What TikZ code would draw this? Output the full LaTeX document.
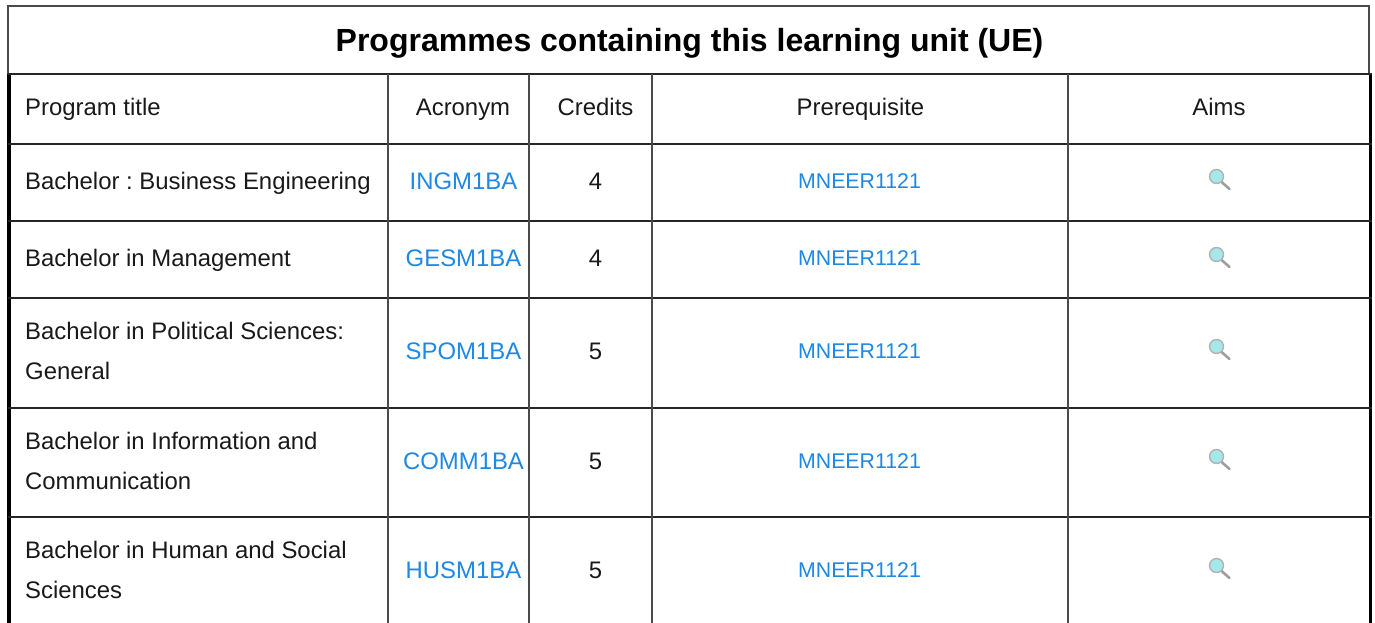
\documentclass[tikz,border=0pt]{standalone}
\usepackage{fontspec}
\setmainfont{Liberation Sans}
\frenchspacing
\definecolor{linkblue}{HTML}{1E88E5}
\definecolor{gridc}{HTML}{4A4A4A}
\definecolor{lensfill}{HTML}{A5E8EA}
\tikzset{
  every picture/.style={x=1pt,y=-1pt},
  cellt/.style={inner sep=0pt,font=\fontsize{23.9}{40}\selectfont,text=black!90,text height=20,text depth=3},
  lefttext/.style={inner sep=0pt,font=\fontsize{23.9}{40}\selectfont,text=black!90,anchor=west,align=left},
  onel/.style={text height=20,text depth=3},
  linkt/.style={inner sep=0pt,font=\fontsize{23.9}{26}\selectfont,text=linkblue,text height=20,text depth=3},
  links/.style={inner sep=0pt,font=\fontsize{21.3}{24}\selectfont,text=linkblue,text height=17,text depth=3},
  titlet/.style={inner sep=0pt,font=\fontsize{32}{38}\bfseries\selectfont,text=black},
  hline/.style={draw=black!85,line width=2.4pt},
  vline/.style={draw=gridc,line width=2pt},
  edge/.style={draw=black,line width=3.6pt},
  thinedge/.style={draw=gridc,line width=2pt}
}
\begin{document}
\begin{tikzpicture}
\useasboundingbox (0,0) rectangle (1375,623);
\fill[white] (0,0) rectangle (1375,623);
% outer frame
\draw[thinedge] (8,74) -- (8,6.5) -- (1369,6.5) -- (1369,74);
\draw[edge] (9,74) -- (9,623);
\draw[edge] (1370.5,74) -- (1370.5,623);
% horizontal rules
\foreach \y in {74,144,221,298,408,517} \draw[hline] (8,\y) -- (1372,\y);
% vertical rules
\foreach \x in {388,529,652,1068} \draw[vline] (\x,74) -- (\x,623);
% title
\node[titlet] (title) at (689.5,43.5) {Programmes containing this learning unit (UE)};
% header
\node[lefttext,onel] (h1) at (25,107.5) {Program title};
\node[cellt] (h2) at (463,107.5) {Acronym};
\node[cellt] (h3) at (595.5,107.5) {Credits};
\node[cellt] (h4) at (860.5,107.5) {Prerequisite};
\node[cellt] (h5) at (1219,107.5) {Aims};
% rows
\node[lefttext,onel] (r1) at (25,181) {Bachelor : Business Engineering};
\node[lefttext,onel] (r2) at (25,258) {Bachelor in Management};
\node[lefttext] (r3) at (25,351) {Bachelor in Political Sciences:\\General};
\node[lefttext] (r4) at (25,461) {Bachelor in Information and\\Communication};
\node[lefttext] (r5) at (25,570) {Bachelor in Human and Social\\Sciences};
\node[linkt] (a1) at (463.5,181) {INGM1BA};
\node[linkt] (a2) at (463.5,258) {GESM1BA};
\node[linkt] (a3) at (463.5,351) {SPOM1BA};
\node[linkt] (a4) at (463.5,461) {COMM1BA};
\node[linkt] (a5) at (463.5,570) {HUSM1BA};
\node[cellt] (c1) at (595.5,181) {4};
\node[cellt] (c2) at (595.5,258) {4};
\node[cellt] (c3) at (595.5,351) {5};
\node[cellt] (c4) at (595.5,461) {5};
\node[cellt] (c5) at (595.5,570) {5};
\node[links] (p1) at (859.5,181) {MNEER1121};
\node[links] (p2) at (859.5,258) {MNEER1121};
\node[links] (p3) at (859.5,351) {MNEER1121};
\node[links] (p4) at (859.5,461) {MNEER1121};
\node[links] (p5) at (859.5,570) {MNEER1121};
% magnifier icons
\foreach \y in {176.5,254.5,346.5,456.5,565.5} {
  \draw[draw=black!38,line width=2.6pt,line cap=round] (1221,\y+5) -- (1229.5,\y+12.5);
  \fill[fill=lensfill,draw=black!30,line width=1.4pt] (1216.5,\y) circle (7);
}
\end{tikzpicture}
\end{document}
